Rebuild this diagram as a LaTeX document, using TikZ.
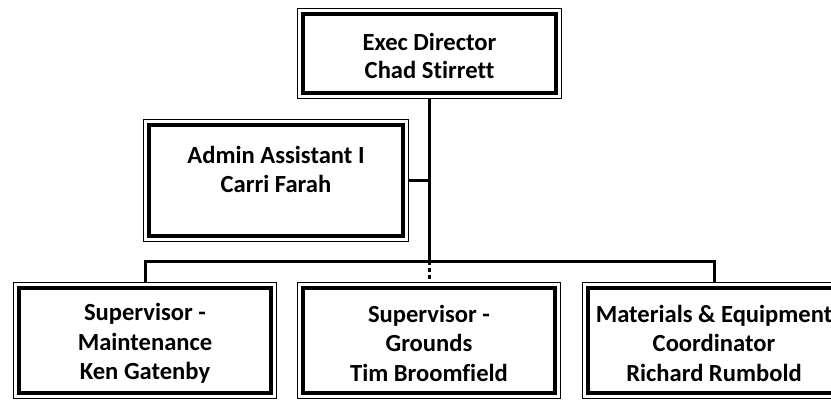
\documentclass[tikz,border=0pt]{standalone}
\usepackage{fontspec}
\setmainfont{Carlito}[Ligatures=NoCommon]
\newcommand{\lift}[1]{\rule{0pt}{#1}}
\begin{document}
\begin{tikzpicture}[x=1pt,y=-1pt,
  box/.style={inner sep=0pt, align=center, font=\fontsize{24.6}{28.5}\selectfont\bfseries},
  low/.style={box, minimum width=264pt, minimum height=117pt, font=\fontsize{24.6}{29.5}\selectfont\bfseries},
  conn/.style={line width=3pt},
  thinframe/.style={line width=1pt},
  thickframe/.style={line width=3.5pt}]
\clip (0,0) rectangle (831,400);
\fill[white] (0,0) rectangle (831,400);
\node[box, minimum width=265pt, minimum height=91pt] (exec) at (429.5,53.5) {\lift{22pt}Exec Director\\Chad Stirrett};
\node[box, minimum width=266pt, minimum height=123pt] (admin) at (276,180.5) {Admin Assistant I\\Carri Farah\\[-6pt]\mbox{}};
\node[low] (m1) at (145,340.5) {\lift{23pt}Supervisor -\\Maintenance\\Ken Gatenby};
\node[low] (m2) at (429,340.5) {\lift{23pt}Supervisor -\\Grounds\\Tim Broomfield};
\node[low] (m3) at (714,340.5) {\lift{23pt}Materials \& Equipment\\Coordinator\\Richard Rumbold};
\foreach \n in {exec,admin,m1,m2,m3}{
  \draw[thinframe] ([shift={(0.5,0.5)}]\n.north west) rectangle ([shift={(-0.5,-0.5)}]\n.south east);
  \draw[thickframe] ([shift={(6,6)}]\n.north west) rectangle ([shift={(-6,-6)}]\n.south east);
}
\coordinate (bus) at (429,261);
\draw[conn] (exec.south) -- (exec.south |- bus);
\draw[conn] (admin.east) -- (admin.east -| exec.south);
\draw[conn] (m1.north) -- (m1.north |- bus) -- (m3.north |- bus) -- (m3.north);
\draw[conn, dash pattern=on 4pt off 3pt] (m2.north |- bus) -- (m2.north);
\end{tikzpicture}
\end{document}
